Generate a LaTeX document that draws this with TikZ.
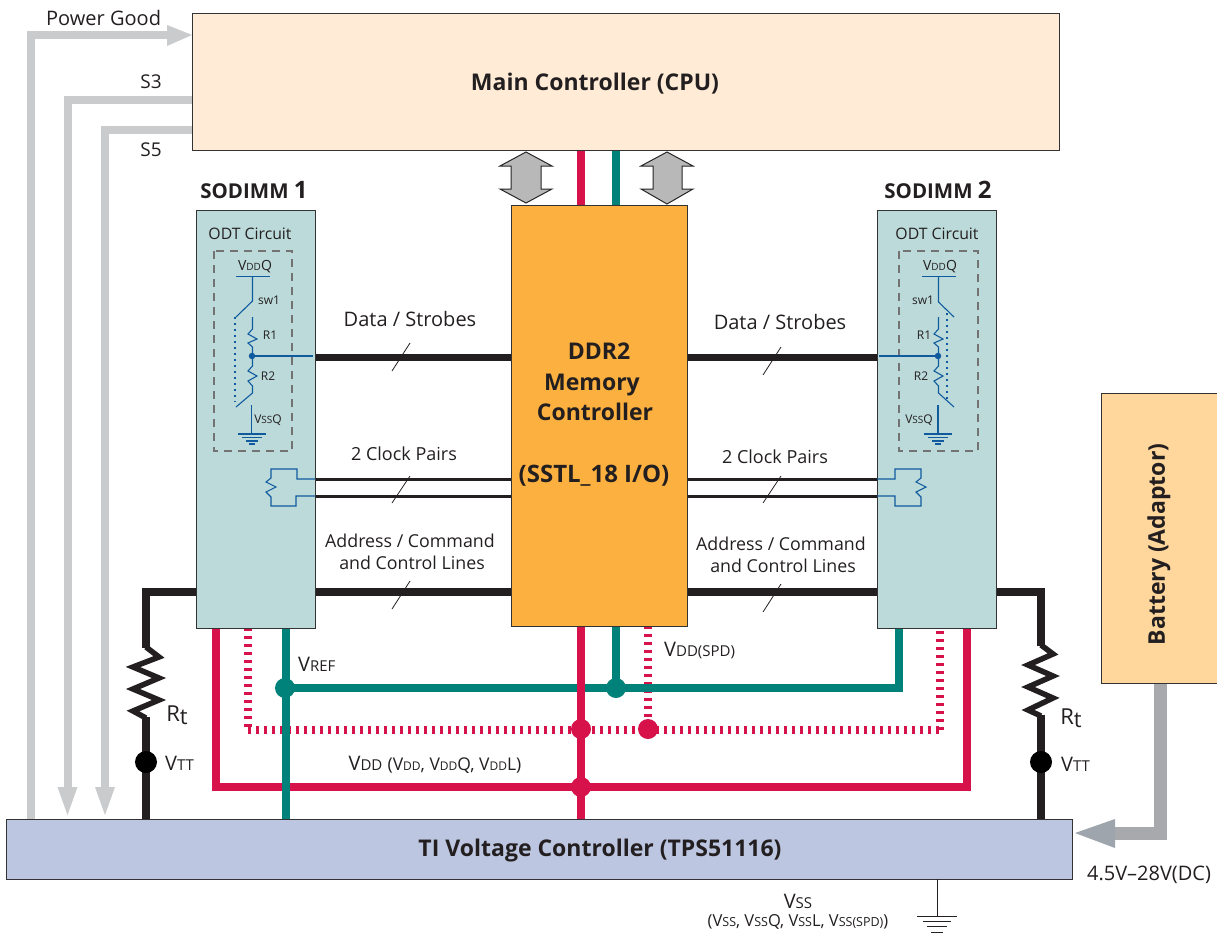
\documentclass[tikz,border=0pt]{standalone}
\usepackage{fontspec}
\setmainfont{Open Sans}
\definecolor{redl}{HTML}{D7124B}
\definecolor{teall}{HTML}{00827B}
\definecolor{darkl}{HTML}{231F20}
\definecolor{grayl}{HTML}{C9CBCD}
\definecolor{bluel}{HTML}{0F5B9E}
\definecolor{batl}{HTML}{A7A9AC}
\newcommand{\fs}[1]{\fontsize{#1}{#1}\selectfont}
\newcommand{\sbA}[1]{{\fontsize{15}{15}\selectfont #1}}
\newcommand{\sbB}[1]{{\fontsize{12}{12}\selectfont #1}}
\newcommand{\sbC}[1]{{\fontsize{12.5}{12.5}\selectfont #1}}
\newcommand{\sbD}[1]{{\fontsize{10}{10}\selectfont #1}}
\tikzset{
 box/.style={draw=black!80,line width=1pt,outer sep=0pt,inner sep=0pt},
 title/.style={inner sep=0pt,anchor=base,font=\fs{23}\bfseries,text=darkl},
 lab/.style={inner sep=0pt,text=darkl,font=\fs{20},align=center},
 smalllab/.style={inner sep=0pt,text=darkl,font=\fs{18},align=center},
 addr/.style={inner sep=0pt,anchor=base,text=darkl,font=\fs{17.8}},
 tiny/.style={inner sep=0pt,text=darkl,font=\fs{12}},
 gline/.style={draw=grayl,line width=8pt},
 redw/.style={draw=redl,line width=8pt},
 tealw/.style={draw=teall,line width=8pt},
 blackw/.style={draw=darkl,line width=8pt},
 zig/.style={draw=darkl,line width=5.5pt,line join=miter},
 thinw/.style={draw=darkl,line width=3pt},
 slash/.style={draw=darkl,line width=0.8pt},
 bw/.style={draw=bluel,line width=1.1pt},
 dotb/.style={bluel,line width=1.2pt,dash pattern=on 1.5pt off 4.5pt},
 reddot/.style={draw=redl,line width=8pt,dash pattern=on 2.7pt off 5.3pt},
 dotn/.style={circle,inner sep=0pt,minimum size=#1,outer sep=0pt},
 dashb/.style={draw=black!55,line width=1.2pt,dash pattern=on 8pt off 6pt},
 harrow/.style={draw=black!85,fill=black!28,line width=1pt,line join=miter},
}
\begin{document}
\begin{tikzpicture}[x=1pt,y=-1pt]
\useasboundingbox (0,0) rectangle (1217,934);
% wires under boxes
\draw[blackw] (146,819) -- (146,717);
\draw[zig] (146,718) -- (133,711) -- (159,700) -- (133,689) -- (159,678) -- (133,667) -- (159,657) -- (146,647);
\draw[blackw,line join=miter] (146,648) -- (146,592) -- (511,592);
\draw[blackw] (1041,819) -- (1041,715);
\draw[zig] (1041,716) -- (1028,710) -- (1053,698) -- (1028,687) -- (1053,676) -- (1028,665) -- (1053,654) -- (1041,645);
\draw[blackw,line join=miter] (1041,646) -- (1041,592) -- (687,592);
\draw[line width=7pt,darkl] (315,357) -- (511,357);
\draw[line width=7pt,darkl] (687,357) -- (877,357);
\draw[thinw] (315,479) -- (511,479);
\draw[thinw] (315,496) -- (511,496);
\draw[thinw] (687,479) -- (877,479);
\draw[thinw] (687,496) -- (877,496);
% red
\draw[redw,line join=miter] (216,628) -- (216,787) -- (967,787) -- (967,628);
\draw[reddot] (248,628) -- (248,730);
\draw[reddot] (248,730) -- (940,730);
\draw[reddot] (940,730) -- (940,628);
\draw[reddot] (648,626) -- (648,729);
% teal
\draw[tealw] (616,150) -- (616,205);
\draw[tealw] (286,628) -- (286,819);
\draw[tealw] (616,626) -- (616,688);
\draw[tealw,line join=miter] (286,688) -- (899,688) -- (899,628);
\draw[redw] (581,150) -- (581,205);
\draw[redw] (581,626) -- (581,819);
% gray
\draw[gline,line join=miter] (31,819) -- (31,35) -- (170,35);
\draw[gline,line join=miter] (192,100) -- (67.5,100) -- (67.5,790);
\draw[gline,line join=miter] (192,130) -- (105,130) -- (105,790);
\fill[grayl] (192,35) -- (167,25) -- (167,46) -- cycle;
\fill[grayl] (67.5,815) -- (57.5,787) -- (77.5,787) -- cycle;
\fill[grayl] (105,815) -- (95,787) -- (115,787) -- cycle;
% battery wire
\draw[draw=batl,line width=13pt,line join=miter] (1160,683) -- (1160,833) -- (1113,833);
\fill[fill={rgb,255:red,158;green,165;blue,173}] (1075,833) -- (1115,819) -- (1115,848) -- cycle;
% boxes
\node[box,minimum width=867pt,minimum height=136pt,fill={rgb,255:red,255;green,235;blue,214}] (cpu) at (625.5,82) {};
\node[title] (cput) at (595,90) {Main Controller (CPU)};
\node[box,fill={rgb,255:red,251;green,176;blue,64},minimum width=176pt,minimum height=421pt] (mc) at (599,415.5) {};
\node[box,fill={rgb,255:red,188;green,218;blue,218},minimum width=119pt,minimum height=418pt] (sa) at (255.5,419) {};
\node[box,fill={rgb,255:red,188;green,218;blue,218},minimum width=119pt,minimum height=418pt] (sb) at (936.5,419) {};
\node[box,fill={rgb,255:red,189;green,198;blue,224},minimum width=1066pt,minimum height=60pt] (ti) at (539,849) {};
\node[title] (tit) at (600,856) {TI Voltage Controller (TPS51116)};
\node[box,fill={rgb,255:red,255;green,214;blue,156},minimum width=117pt,minimum height=290pt] (bat) at (1159.5,538) {};
\node[inner sep=0pt,rotate=90,font=\fs{23}\bfseries,text=darkl] (batt) at (1159,544.5) {Battery (Adaptor)};
\node[title] (mc1) at (599,359) {DDR2};
\node[title] (mc2) at (592,390) {Memory};
\node[title] (mc3) at (595,420) {Controller};
\node[title,font=\fs{24}\bfseries] (mc4) at (594,482) {(SSTL\_18 I/O)};
% double arrows
\draw[harrow] (526,152) -- (552,166) -- (541,166) -- (541,189) -- (552,189) -- (526,203) -- (500,189) -- (511,189) -- (511,166) -- (500,166) -- cycle;
\draw[harrow] (667,152) -- (693,166) -- (682,166) -- (682,189) -- (693,189) -- (667,204) -- (641,189) -- (653,189) -- (653,166) -- (641,166) -- cycle;
% dots
\node[dotn=22pt,fill=black] (dvl) at (146,762) {};
\node[dotn=22pt,fill=black] (dvr) at (1041,762) {};
\node[dotn=20pt,fill=teall] (dt1) at (285,688) {};
\node[dotn=20pt,fill=teall] (dt2) at (616,688) {};
\node[dotn=20pt,fill=redl] (dr1) at (581,729) {};
\node[dotn=20pt,fill=redl] (dr2) at (648,729) {};
\node[dotn=20pt,fill=redl] (dr3) at (581,787) {};
% main labels
\node[lab,anchor=west] (pg) at (46,18) {Power Good};
\node[lab,font=\fs{19}] (s3) at (151,82) {S3};
\node[lab,font=\fs{19}] (s5) at (151,150) {S5};
\node[inner sep=0pt,font=\fs{20.5}\bfseries,text=darkl] (s1) at (254,190) {SODIMM {\fs{24}1}};
\node[inner sep=0pt,font=\fs{20.5}\bfseries,text=darkl] (s2) at (938,190) {SODIMM {\fs{24}2}};
\node[smalllab,font=\fs{15.8}] (o1) at (250,234) {ODT Circuit};
\node[smalllab,font=\fs{15.8}] (o2) at (937,234) {ODT Circuit};
\node[lab] (d1) at (410,319) {Data / Strobes};
\node[lab] (d2) at (780,322) {Data / Strobes};
\node[smalllab] (c1) at (404,454) {2 Clock Pairs};
\node[smalllab] (c2) at (775,457) {2 Clock Pairs};
\node[addr] (a1a) at (410,547) {Address / Command};
\node[addr] (a1b) at (412,569) {and Control Lines};
\node[addr] (a2a) at (781,550) {Address / Command};
\node[addr] (a2b) at (783,572) {and Control Lines};
\draw[slash] (392,371) -- (410,343);
\draw[slash] (763,375) -- (781,347);
\draw[slash] (392,503) -- (410,476);
\draw[slash] (763,503) -- (781,476);
\draw[slash] (392,609) -- (410,581);
\draw[slash] (763,612) -- (781,584);
\node[lab,font=\fs{22}] (rt1) at (177,715) {R\raisebox{-3pt}{t}};
\node[lab,font=\fs{22}] (rt2) at (1071,718) {R\raisebox{-3pt}{t}};
\node[lab,anchor=west] (vt1) at (165,763) {V\sbA{TT}};
\node[lab,anchor=west] (vt2) at (1061,764) {V\sbA{TT}};
\node[lab,anchor=west] (vr) at (298,664) {V\sbA{REF}};
\node[lab,anchor=west] (vs) at (664,651) {V\sbA{DD(SPD)}};
\node[lab,anchor=center] (vd) at (435,765) {V\sbA{DD} {\fs{17.5}(V\sbB{DD}, V\sbB{DD}Q, V\sbB{DD}L)}};
\node[lab] (dc) at (1149,875) {4.5V–28V(DC)};
\node[lab] (vss) at (798,901) {V\sbA{SS}};
\node[lab,font=\fs{16.5}] (vss2) at (798,922) {(V\sbC{SS}, V\sbC{SS}Q, V\sbC{SS}L, V\sbC{SS(SPD)})};
% ground main
\draw[darkl,line width=1pt] (937,879) -- (937,916);
\draw[darkl,line width=1pt] (917,916) -- (957,916);
\draw[darkl,line width=1pt] (923,921) -- (951,921);
\draw[darkl,line width=1pt] (927,926) -- (947,926);
\draw[darkl,line width=1pt] (931,932) -- (943,932);
% ODT left
\draw[dashb] (214,251) rectangle (292,451);
\node[tiny,font=\fs{14}] (lv) at (255,267) {V\sbD{DD}Q};
\node[tiny] (lsw) at (269,300) {sw1};
\node[tiny] (lr1) at (270,335) {R1};
\node[tiny] (lr2) at (268,376) {R2};
\node[tiny] (lvs) at (268,420) {V\sbD{SS}Q};
\draw[bw] (236,276.5) -- (270,276.5);
\draw[bw] (252.5,276.5) -- (252.5,301) -- (236,317);
\draw[dotb] (235,317) -- (235,402);
\draw[bw,line join=miter] (252.5,317) -- (252.5,329) -- (248,334) -- (257,339) -- (248,343) -- (252.5,347) -- (252.5,366) -- (248,371) -- (257,376) -- (248,381) -- (252.5,386) -- (252.5,393) -- (236,407);
\node[dotn=6.5pt,fill=bluel] (nl) at (252,356) {};
\draw[bw] (nl) -- (313,356);
\draw[bw] (251.5,405) -- (251.5,434);
\draw[bw] (238,434) -- (266,434);
\draw[bw] (242,437.5) -- (262,437.5);
\draw[bw] (246,441) -- (258,441);
\draw[bw] (249,444) -- (255,444);
\draw[bw,line join=miter] (315,479) -- (297,479) -- (297,469) -- (271,469) -- (271,478) -- (266,482) -- (276,487) -- (266,492) -- (271,497) -- (271,506) -- (296,506) -- (296,496) -- (315,496);
% ODT right
\draw[dashb] (899,251) rectangle (978,451);
\node[tiny,font=\fs{14}] (rv) at (940,267) {V\sbD{DD}Q};
\node[tiny] (rsw) at (923,300) {sw1};
\node[tiny] (rr1) at (924,335) {R1};
\node[tiny] (rr2) at (921,376) {R2};
\node[tiny] (rvs) at (919,420) {V\sbD{SS}Q};
\draw[bw] (922,276.5) -- (956,276.5);
\draw[bw] (938.5,276.5) -- (938.5,302) -- (954,317);
\draw[dotb] (947,313) -- (947,400);
\draw[bw,line join=miter] (938.5,317) -- (938.5,329) -- (934,334) -- (943,339) -- (934,343) -- (938.5,347) -- (938.5,366) -- (934,371) -- (943,376) -- (934,381) -- (938.5,386) -- (938.5,393) -- (954,407);
\node[dotn=6.5pt,fill=bluel] (nr) at (938,356) {};
\draw[bw] (nr) -- (879,356);
\draw[bw] (938,405) -- (938,434);
\draw[bw] (924,434) -- (952,434);
\draw[bw] (928,437.5) -- (948,437.5);
\draw[bw] (932,441) -- (944,441);
\draw[bw] (935,444) -- (941,444);
\draw[bw,line join=miter] (877,479) -- (895,479) -- (895,469) -- (921,469) -- (921,478) -- (916,482) -- (926,487) -- (916,492) -- (921,497) -- (921,506) -- (895,506) -- (895,496) -- (877,496);
\end{tikzpicture}
\end{document}
